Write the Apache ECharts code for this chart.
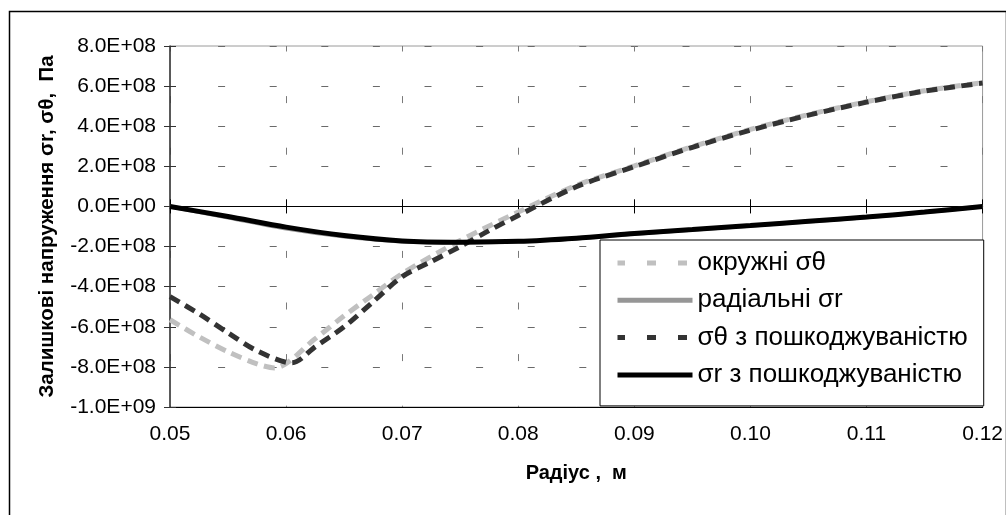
<!DOCTYPE html>
<html>
<head>
<meta charset="utf-8">
<script src="https://cdn.jsdelivr.net/npm/echarts@6/dist/echarts.min.js"></script>
<style>html,body{margin:0;padding:0;background:#fff;}#c{width:1006px;height:515px;}</style>
</head>
<body>
<div id="c"></div>
<script>
// ---- data (radius in m, stress in Pa) ----
const radiusHoop = [0.05, 0.0525, 0.055, 0.0575, 0.059, 0.0625, 0.065, 0.0675, 0.07, 0.075, 0.08, 0.085, 0.09, 0.095, 0.10, 0.105, 0.11, 0.115, 0.12];
const hoopStress = [-5.65e8, -6.5e8, -7.25e8, -7.85e8, -8.05e8, -6.6e8, -5.45e8, -4.4e8, -3.35e8, -1.7e8, -0.28e8, 1.05e8, 2.02e8, 2.98e8, 3.84e8, 4.58e8, 5.22e8, 5.77e8, 6.17e8];

const radiusRad = [0.05, 0.055, 0.06, 0.065, 0.07, 0.075, 0.08, 0.085, 0.09, 0.095, 0.10, 0.105, 0.11, 0.115, 0.12];
const radialStress = [0, -0.55e8, -1.1e8, -1.5e8, -1.75e8, -1.8e8, -1.75e8, -1.6e8, -1.37e8, -1.16e8, -0.96e8, -0.75e8, -0.54e8, -0.29e8, 0];

const radiusHoopDmg = [0.05, 0.0525, 0.055, 0.0575, 0.0605, 0.0625, 0.065, 0.0675, 0.07, 0.0725, 0.075, 0.0775, 0.08, 0.085, 0.09, 0.095, 0.10, 0.105, 0.11, 0.115, 0.12];
const hoopStressDmg = [-4.5e8, -5.35e8, -6.3e8, -7.2e8, -7.8e8, -7.0e8, -6.0e8, -4.75e8, -3.5e8, -2.75e8, -2.0e8, -1.2e8, -0.45e8, 0.98e8, 1.98e8, 2.95e8, 3.8e8, 4.55e8, 5.2e8, 5.75e8, 6.15e8];

const radiusRadDmg = [0.05, 0.055, 0.06, 0.065, 0.07, 0.075, 0.08, 0.085, 0.09, 0.095, 0.10, 0.105, 0.11, 0.115, 0.12];
const radialStressDmg = [0, -0.5e8, -1.03e8, -1.45e8, -1.72e8, -1.78e8, -1.74e8, -1.58e8, -1.35e8, -1.15e8, -0.95e8, -0.74e8, -0.53e8, -0.28e8, 0];

const seriesNames = ['окружні σθ', 'радіальні σr', 'σθ з пошкоджуваністю', 'σr з пошкоджуваністю'];
const xTitle = 'Радіус ,  м';
const yTitle = 'Залишкові напруження σr, σθ,  Па';

function pairs(xs, ys) { return xs.map((x, i) => [x, ys[i]]); }
function sci(v) {
  if (v === 0) return '0.0E+00';
  let e = Math.floor(Math.log10(Math.abs(v)) + 1e-9);
  let m = v / Math.pow(10, e);
  let ms = m.toFixed(1);
  if (Math.abs(parseFloat(ms)) >= 10) { e += 1; ms = (v / Math.pow(10, e)).toFixed(1); }
  return ms + 'E' + (e < 0 ? '-' : '+') + String(Math.abs(e)).padStart(2, '0');
}

const FONT = '"Liberation Sans", Arial, sans-serif';
const chart = echarts.init(document.getElementById('c'), null, { renderer: 'canvas' });

const xBase = { type: 'value', min: 0.05, max: 0.12, interval: 0.01, gridIndex: 0 };
const yBase = { type: 'value', min: -1e9, max: 8e8, interval: 2e8, gridIndex: 0 };

chart.setOption({
  animation: false,
  backgroundColor: '#fff',
  textStyle: { fontFamily: FONT },
  grid: { left: 170, right: 23, top: 46, bottom: 108, show: true, borderColor: '#9a9a9a', borderWidth: 1, backgroundColor: 'transparent' },
  graphic: [{
    type: 'rect', left: 7, top: 9, z: -10, silent: true,
    shape: { width: 997, height: 520 },
    style: { fill: 'none', stroke: '#000', lineWidth: 1.5 }
  }],
  xAxis: [
    Object.assign({}, xBase, {
      position: 'bottom',
      name: xTitle, nameLocation: 'middle', nameGap: 56,
      nameTextStyle: { fontSize: 20, fontWeight: 'bold', color: '#000', fontFamily: FONT },
      axisLine: { onZero: false, lineStyle: { color: '#000', width: 1.2 } },
      axisTick: { show: false },
      axisLabel: { fontSize: 21, color: '#000', margin: 17, fontFamily: FONT, formatter: v => v.toFixed(2) },
      splitLine: { show: true, lineStyle: { color: '#7a7a7a', width: 1, type: [7, 44.6], dashOffset: 1.5 } }
    }),
    Object.assign({}, xBase, {
      position: 'bottom',
      axisLine: { onZero: true, lineStyle: { color: '#000', width: 1.2 } },
      axisTick: { show: true, inside: false, length: 7, lineStyle: { color: '#000', width: 1 } },
      axisLabel: { show: false }, splitLine: { show: false }
    }),
    Object.assign({}, xBase, {
      position: 'top',
      axisLine: { onZero: true, show: false },
      axisTick: { show: true, inside: false, length: 7, lineStyle: { color: '#000', width: 1 } },
      axisLabel: { show: false }, splitLine: { show: false }
    })
  ],
  yAxis: [
    Object.assign({}, yBase, {
      position: 'left',
      name: yTitle, nameLocation: 'middle', nameGap: 112, nameRotate: 90,
      nameTextStyle: { fontSize: 20.5, fontWeight: 'bold', color: '#000', fontFamily: FONT },
      axisLine: { show: true, onZero: false, lineStyle: { color: '#333', width: 1.5 } },
      axisTick: { show: true, inside: false, length: 6, lineStyle: { color: '#333', width: 1 } },
      axisLabel: { fontSize: 21, color: '#000', margin: 14, fontFamily: FONT, formatter: sci },
      splitLine: { show: true, lineStyle: { color: '#6a6a6a', width: 1, type: [7, 44.6], dashOffset: 3.5 } }
    }),
    Object.assign({}, yBase, {
      position: 'left',
      axisLine: { show: false, onZero: false },
      axisTick: { show: true, inside: true, length: 6, lineStyle: { color: '#333', width: 1 } },
      axisLabel: { show: false }, splitLine: { show: false }
    })
  ],
  legend: {
    orient: 'vertical', left: 600, top: 240,
    padding: [10, 16, 18, 15],
    itemGap: 11.3, itemWidth: 75, itemHeight: 26,
    backgroundColor: '#fff', borderColor: '#000', borderWidth: 1, borderRadius: 0,
    textStyle: { fontSize: 26, color: '#000', fontFamily: FONT, lineHeight: 26 },
    itemStyle: { opacity: 0 },
    lineStyle: { width: 5 },
    data: [
      { name: seriesNames[0], lineStyle: { width: 5, type: [9, 22], color: '#c0c0c0' } },
      { name: seriesNames[1], lineStyle: { width: 5, color: '#969696' } },
      { name: seriesNames[2], lineStyle: { width: 5, type: [9, 22], color: '#333333' } },
      { name: seriesNames[3], lineStyle: { width: 5, color: '#000000' } }
    ]
  },
  series: [
    { name: seriesNames[0], type: 'line', xAxisIndex: 0, yAxisIndex: 0, data: pairs(radiusHoop, hoopStress),
      symbol: 'none', smooth: 0.3, lineStyle: { color: '#c0c0c0', width: 5, type: [11, 6.5] }, itemStyle: { color: '#c0c0c0' }, z: 3 },
    { name: seriesNames[1], type: 'line', xAxisIndex: 0, yAxisIndex: 0, data: pairs(radiusRad, radialStress),
      symbol: 'none', smooth: 0.3, lineStyle: { color: '#969696', width: 4 }, itemStyle: { color: '#969696' }, z: 4 },
    { name: seriesNames[2], type: 'line', xAxisIndex: 0, yAxisIndex: 0, data: pairs(radiusHoopDmg, hoopStressDmg),
      symbol: 'none', smooth: 0.3, lineStyle: { color: '#333333', width: 5, type: [11, 6.5] }, itemStyle: { color: '#333333' }, z: 5 },
    { name: seriesNames[3], type: 'line', xAxisIndex: 0, yAxisIndex: 0, data: pairs(radiusRadDmg, radialStressDmg),
      symbol: 'none', smooth: 0.3, lineStyle: { color: '#000000', width: 5 }, itemStyle: { color: '#000000' }, z: 6 }
  ]
});
</script>
</body>
</html>
